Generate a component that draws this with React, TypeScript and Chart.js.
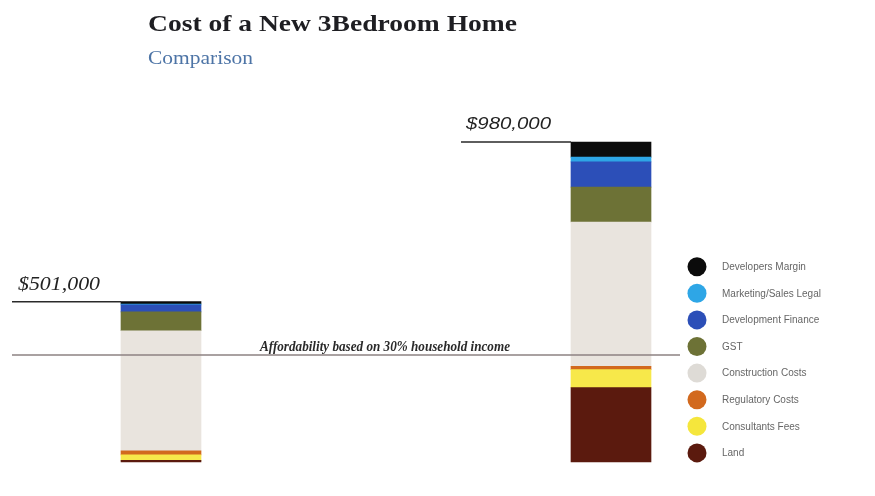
import React, { useEffect, useRef } from "react";
import { Chart, registerables } from "chart.js";

Chart.register(...registerables);

// ---- data (values in $ thousands) ----
const homes = ["$501,000", "$980,000"];
const seriesNames = [
  "Land",
  "Consultants Fees",
  "Regulatory Costs",
  "Construction Costs",
  "GST",
  "Development Finance",
  "Marketing/Sales Legal",
  "Developers Margin",
];
const seriesColors = [
  "#5b1a0e",
  "#f7e84a",
  "#d2691e",
  "#e9e4de",
  "#6d7236",
  "#2c4fb8",
  "#2ea6e6",
  "#0b0b0b",
];
const legendColors = [
  "#5b1a0e",
  "#f5e63c",
  "#d2691e",
  "#dedbd6",
  "#6d7236",
  "#2c4fb8",
  "#2ea6e6",
  "#0b0b0b",
];
const land = [5, 228];
const consultantsFees = [17, 55];
const regulatoryCosts = [12, 10];
const constructionCosts = [368, 442];
const gst = [58, 107];
const developmentFinance = [21, 77];
const marketingSalesLegal = [3, 15];
const developersMargin = [7, 46];
const seriesValues = [
  land,
  consultantsFees,
  regulatoryCosts,
  constructionCosts,
  gst,
  developmentFinance,
  marketingSalesLegal,
  developersMargin,
];
const affordabilityLevel = 328;
const affordabilityText = "Affordability based on 30% household income";
const titleText = "Cost of a New 3Bedroom Home";
const subtitleText = "Comparison";
const yMax = 1000;

function drawFitted(
  ctx: CanvasRenderingContext2D,
  text: string,
  x: number,
  baseline: number,
  font: string,
  color: string,
  targetWidth: number
) {
  ctx.save();
  ctx.font = font;
  ctx.fillStyle = color;
  ctx.textAlign = "left";
  ctx.textBaseline = "alphabetic";
  const w = ctx.measureText(text).width;
  ctx.translate(x, baseline);
  ctx.scale(targetWidth / w, 1);
  ctx.fillText(text, 0, 0);
  ctx.restore();
}

const overlayPlugin = {
  id: "overlay",
  afterDraw(chart: any) {
    const ctx: CanvasRenderingContext2D = chart.ctx;
    const yScale = chart.scales.y;
    const topMeta = chart.getDatasetMeta(seriesNames.length - 1);

    // title + subtitle
    drawFitted(ctx, titleText, 148, 31, "bold 24px 'Liberation Serif'", "#1e1e22", 369);
    drawFitted(ctx, subtitleText, 148, 64, "18px 'Liberation Serif'", "#4d74a6", 105);

    // totals
    const totals = homes.map((_, i) =>
      seriesValues.reduce((s, arr) => s + arr[i], 0)
    );
    const tops = totals.map((t) => yScale.getPixelForValue(t));
    const lefts = homes.map((_, i) => {
      const el = topMeta.data[i];
      return el.x - el.width / 2;
    });

    ctx.save();
    ctx.strokeStyle = "#2a2a2a";
    ctx.lineWidth = 1.5;
    ctx.beginPath();
    ctx.moveTo(12, tops[0]);
    ctx.lineTo(lefts[0], tops[0]);
    ctx.moveTo(lefts[1] - 110, tops[1]);
    ctx.lineTo(lefts[1], tops[1]);
    ctx.stroke();
    ctx.restore();

    drawFitted(ctx, homes[0], 18, tops[0] - 12, "italic 19px 'Liberation Serif'", "#222", 82);
    drawFitted(ctx, homes[1], lefts[1] - 105, tops[1] - 13, "italic 16px 'Liberation Sans'", "#222", 85);

    // affordability line
    const ay = yScale.getPixelForValue(affordabilityLevel);
    ctx.save();
    ctx.strokeStyle = "#8c8282";
    ctx.lineWidth = 1.5;
    ctx.beginPath();
    ctx.moveTo(12, ay);
    ctx.lineTo(680, ay);
    ctx.stroke();
    ctx.restore();
    drawFitted(ctx, affordabilityText, 260, ay - 4, "italic bold 14px 'Liberation Serif'", "#2a2a2a", 250);

    // legend (top item = last series)
    ctx.save();
    for (let k = 0; k < seriesNames.length; k++) {
      const idx = seriesNames.length - 1 - k;
      const cy = 266.7 + k * 26.6;
      ctx.beginPath();
      ctx.arc(697, cy, 9.5, 0, Math.PI * 2);
      ctx.fillStyle = legendColors[idx];
      ctx.fill();
      ctx.font = "10px 'Liberation Sans'";
      ctx.fillStyle = "#666";
      ctx.textBaseline = "middle";
      ctx.textAlign = "left";
      ctx.fillText(seriesNames[idx], 722, cy + 0.5);
    }
    ctx.restore();
  },
};

export default function App() {
  const canvasRef = useRef<HTMLCanvasElement | null>(null);

  useEffect(() => {
    if (!canvasRef.current) return;
    const chart = new Chart(canvasRef.current, {
      type: "bar",
      data: {
        labels: homes,
        datasets: seriesNames.map((name, i) => ({
          label: name,
          data: seriesValues[i],
          backgroundColor: seriesColors[i],
          borderWidth: 0,
          barThickness: 80,
          clip: false as any,
        })),
      },
      options: {
        responsive: false,
        animation: false,
        devicePixelRatio: 1,
        layout: { padding: { left: 161, right: 264, top: 135.5, bottom: 34 } },
        scales: {
          x: { stacked: true, display: false, offset: false, grid: { display: false } },
          y: { stacked: true, display: false, min: 0, max: yMax, grid: { display: false } },
        },
        plugins: {
          legend: { display: false },
          tooltip: { enabled: false },
          title: { display: false },
        },
      },
      plugins: [overlayPlugin],
    });
    return () => chart.destroy();
  }, []);

  return (
    <div
      style={{
        position: "fixed",
        left: 0,
        top: 0,
        width: 875,
        height: 496,
        background: "#fff",
      }}
    >
      <canvas ref={canvasRef} width={875} height={496} style={{ width: 875, height: 496 }} />
    </div>
  );
}
